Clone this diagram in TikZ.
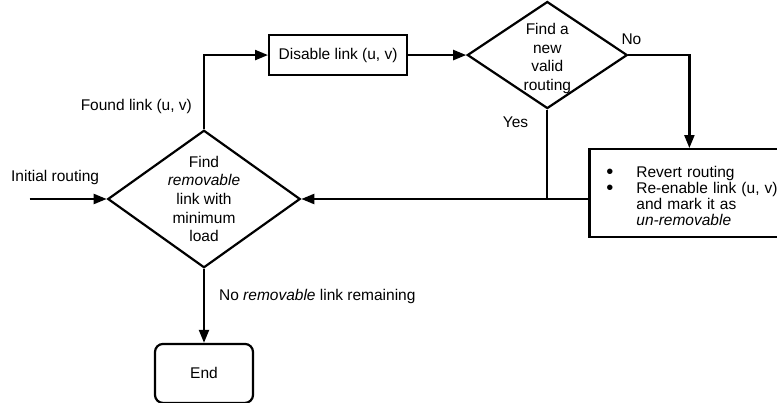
\documentclass[tikz,border=0pt]{standalone}
\usepackage{fontspec}
\setmainfont{Liberation Sans}
\usetikzlibrary{positioning, arrows.meta, shapes.geometric}

\begin{document}
\begin{tikzpicture}[
node distance=0mm,
font=\fontsize{15.5pt}{18.6pt}\selectfont,
line width=2.2pt,
>={Triangle[length=13pt, width=10pt]},
decision/.style={draw, diamond, aspect=1.4, inner sep=0pt, align=center},
process/.style={draw, rectangle, inner sep=0pt},
terminal/.style={draw, rectangle, rounded corners=8pt, inner sep=0pt, minimum width=98pt, minimum height=59pt},
lbl/.style={inner sep=0pt}
]
\useasboundingbox (0,0) rectangle (777pt,-403pt);

% main loop
\node[decision, minimum width=190pt, minimum height=136pt] (find) at (204pt,-199pt) {Find\\\textit{removable}\\link with\\minimum\\load};
\node[process, minimum width=138pt, minimum height=40pt, above right=53pt and 64pt of find.north] (disable) {Disable link (u, v)};
\node[decision, aspect=1.5, inner sep=-3pt, minimum width=160pt, minimum height=107pt, right=58pt of disable] (valid) {\rule{0pt}{18pt}Find a\\new\\valid\\routing};
\node[process, minimum width=200pt, minimum height=88pt, text width=200pt, align=left, font=\fontsize{15.5pt}{16pt}\selectfont, below=93pt of valid.east, xshift=61pt] (revert) {\rule{0pt}{17pt}\hspace*{17pt}\makebox[30pt][l]{\raisebox{-1pt}{\scalebox{1.3}{\textbullet}}}Revert routing\\
\hspace*{17pt}\makebox[30pt][l]{\raisebox{-1pt}{\scalebox{1.3}{\textbullet}}}Re-enable link (u, v)\\
\hspace*{47pt}and mark it as\\
\hspace*{47pt}\textit{un-removable}};

% end
\node[terminal, below=74pt of find] (end) {End};

% arrows
\coordinate[left=77pt of find.west] (start);
\draw[->] (start) -- node[lbl, above=13pt, pos=0.33] (lblinit) {Initial routing} (find.west);
\draw[->] (find.north) |- node[lbl, left=11pt, pos=0.155] (lblfound) {Found link (u, v)} (disable.west);
\draw[->] (disable.east) -- (valid.west);
\draw[->] (valid.east) -| node[lbl, anchor=south west, pos=0, xshift=-8pt, yshift=9pt] (lblno) {No} (revert.north);
\draw (valid.south) -- node[lbl, left=18pt, pos=0.14] (lblyes) {Yes} (valid.south |- find.east);
\draw[->] (revert.west |- find.east) -- (find.east);
\draw[->] (find.south) -- node[lbl, right=14pt, pos=0.38] (lblnone) {No \textit{removable} link remaining} (end.north);

\end{tikzpicture}
\end{document}
